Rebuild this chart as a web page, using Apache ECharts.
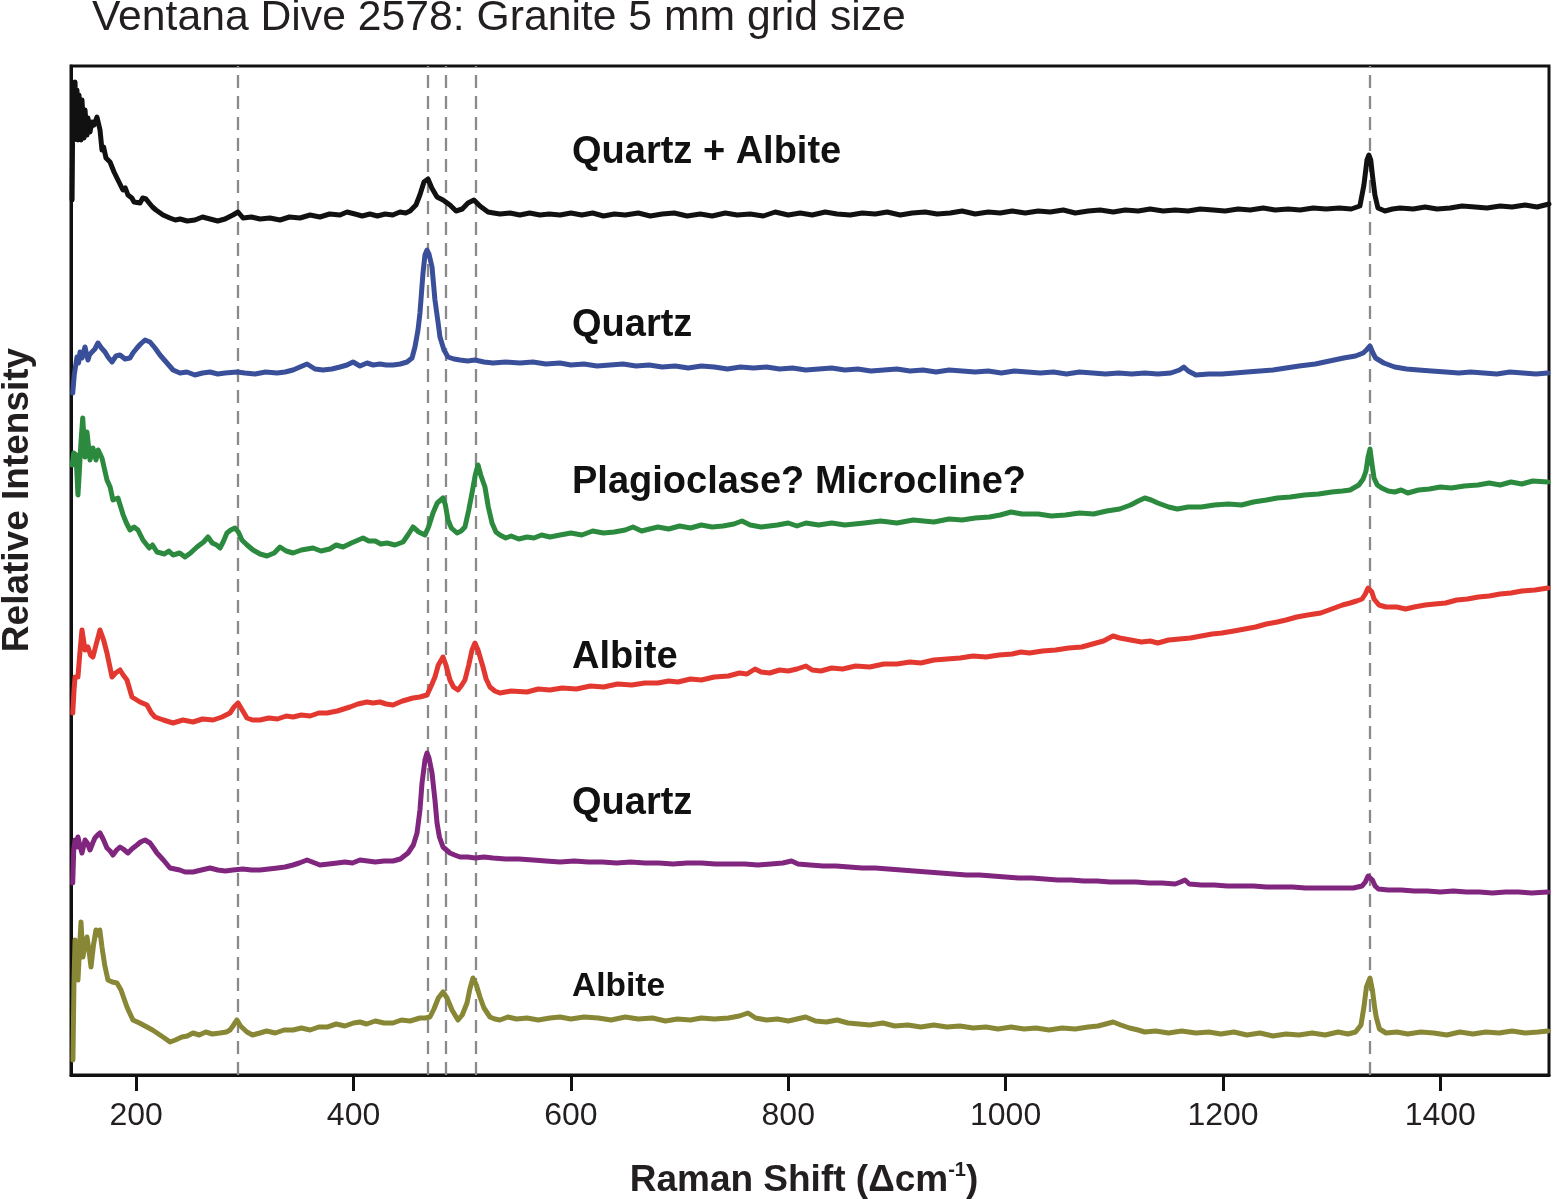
<!DOCTYPE html>
<html>
<head>
<meta charset="utf-8">
<title>Ventana Dive 2578: Granite 5 mm grid size</title>
<script src="https://cdn.jsdelivr.net/npm/echarts@6.0.0/dist/echarts.min.js"></script>
<style>
  html, body { margin: 0; padding: 0; background: #fff; }
  #main { width: 1553px; height: 1199px; }
</style>
</head>
<body>
<div id="main"></div>
<script>
// Raman shift tick labels and the reference peak positions (dashed lines)
const xTicks = [200, 400, 600, 800, 1000, 1200, 1400];
const peakLines = [293, 468, 485, 512, 1335];

// mineral labels, top to bottom
const labels = ['Quartz + Albite', 'Quartz', 'Plagioclase? Microcline?', 'Albite', 'Quartz', 'Albite'];
const colors = ['#111111', '#3a4f9a', '#2b8a3e', '#e2382f', '#80267f', '#878735'];

// spectra: [raman shift, stacked relative intensity]
const quartzAlbite = [[141,875],[141.8,990],[142.8,935],[143.7,993],[144.6,945],[145.5,985],[146.4,935],[147.4,980],[149.2,935],[150.1,975],[152,937],[152.9,965],[154.7,940],[155.6,957],[157.5,943],[159.3,953],[161.2,950],[163.9,958],[166.7,945],[168.5,925],[170,928],[172.2,917],[175.9,913],[179.6,903],[183.2,895],[187.8,885],[190,887],[192.4,880],[196,877],[198,873],[203.5,872],[206,877],[209,876],[212.7,871],[215,868],[218.2,865],[224.7,860],[231,857],[236,855],[240.3,856],[247,854],[254,855],[261,858],[268,856],[275,854],[281.7,856],[289,860],[293.7,863],[298.3,857],[306,858],[314,856],[323,857],[332.3,855],[341,858],[350.7,857],[360,860],[369,858],[378,861],[387.5,860],[394,863],[401.3,861],[408,859],[415,861],[422,859],[429,861],[436,860],[442.7,863],[448,862],[452,864],[457.4,870],[461,880],[464.8,893],[468.5,896],[472,887],[476.8,878],[482.3,875],[488.7,870],[494.3,864],[500,866],[505.3,872],[510.8,875],[516.3,869],[523.7,863],[529,862],[534.7,861],[544,862],[553,860],[562,862],[571.5,860],[580,861],[590,860],[600,862],[610,860],[620,862],[630,859],[640,861],[650,860],[662,862],[673,859],[684,861],[695,862],[707,859],[719,861],[730,859],[742,862],[753,860],[765,861],[777,859],[788,863],[800,860],[811,862],[822,860],[834,863],[845,861],[857,860],[868,862],[880,861],[891,863],[903,860],[914,862],[926,863],[937,861],[949,862],[960,864],[972,861],[984,863],[995,862],[1006,864],[1018,862],[1030,864],[1041,863],[1053,865],[1064,862],[1076,864],[1087,865],[1099,863],[1110,865],[1122,864],[1133,866],[1145,864],[1156,865],[1168,864],[1179,866],[1191,865],[1202,864],[1214,866],[1225,865],[1237,867],[1248,865],[1260,866],[1271,865],[1283,867],[1295,866],[1307,867],[1318,866],[1326,869],[1329.7,890],[1332.5,915],[1334.3,920],[1336,915],[1337.5,900],[1339.8,880],[1342.6,867],[1349,864],[1356,866],[1363,867],[1375,866],[1386,868],[1397,866],[1409,867],[1420,869],[1432,868],[1443,867],[1455,869],[1466,868],[1478,870],[1489,868],[1500,871]];

const quartzA = [[141.6,682],[143,700],[145.5,718],[147,712],[148.3,723],[150.1,717],[152.9,728],[155.6,715],[157,720],[159.3,723],[162,726],[164.8,732],[168,727],[171.3,723],[174,718],[177.7,713],[181.4,719],[185.1,720],[189.7,716],[194.3,717],[197,722],[200.7,727],[204,731],[208.1,735],[212.7,733],[217.3,727],[221.9,720],[228.3,712],[233.9,705],[240.3,702],[246.7,703],[254,700],[261,702],[267.9,703],[275,701],[281.7,702],[292.7,703],[300,702],[309.3,701],[319,703],[329.5,702],[337,703],[344.3,705],[350.7,708],[357.2,711],[364.5,706],[371.9,705],[380,706],[387.5,708],[394,710],[399.5,713],[405.9,709],[412.4,712],[418,710],[424.3,711],[430,710],[436.3,710],[443,711],[449.2,713],[453.8,717],[456.5,728],[459.3,745],[461.1,762],[463.9,802],[465.7,820],[467.6,825],[469.4,821],[472.2,808],[474.9,775],[477.7,753],[479.5,738],[483.2,725],[486.9,718],[492.4,716],[497.9,715],[505,714],[511.7,715],[520,713],[528.3,712],[540,713],[553.1,712],[565,713],[577,711],[590,712],[600,710],[612,711],[624,709],[636,710],[648,711],[660,709],[672,710],[684,708],[696,709],[708,707],[720,709],[732,708],[744,706],[756,708],[768,707],[780,708],[792,706],[804,707],[816,705],[828,706],[840,707],[852,705],[864,706],[876,704],[888,705],[900,706],[912,704],[924,705],[936,703],[948,705],[960,704],[972,703],[984,704],[996,702],[1008,704],[1020,703],[1032,702],[1044,703],[1056,701],[1068,703],[1080,702],[1092,701],[1104,702],[1116,701],[1128,702],[1140,701],[1152,702],[1160,705],[1164,708],[1168,704],[1175,700],[1187,701],[1199,701],[1211,702],[1222,703],[1234,704],[1246,705],[1258,707],[1270,709],[1285,711],[1298,714],[1311,717],[1322,719],[1329,722],[1332,725],[1335.3,729],[1338,722],[1340.4,717],[1348,712],[1358,708],[1369,706],[1380,705],[1392,704],[1405,703],[1417,702],[1428,703],[1440,702],[1452,701],[1464,703],[1476,702],[1488,701],[1499,702]];

const plagioclase = [[141.2,610],[142.5,622],[144.6,620],[146.4,580],[147.5,600],[149,630],[150.8,657],[152.9,618],[154.7,643],[157.5,615],[160.2,627],[163,615],[165,625],[168.5,617],[171,605],[173.1,595],[176,588],[178.6,575],[183.2,577],[188,560],[191,552],[194.3,545],[198,548],[201.6,545],[206.2,535],[212,527],[215,530],[219.1,523],[226,521],[230,524],[233.9,520],[240,522],[244.9,518],[250,522],[255.9,528],[262,533],[266.1,538],[270,532],[274,530],[277.1,527],[280,533],[283.5,542],[287,545],[290.9,547],[294,543],[297.3,535],[302,530],[307.5,525],[314,521],[320.3,519],[327,522],[332.3,528],[338,524],[344.3,522],[352,525],[362.7,527],[370,524],[378,526],[384,530],[390.3,528],[398,532],[408.7,537],[414,534],[420,534],[425,531],[430.8,532],[438,530],[445.5,533],[450,540],[454.7,548],[460,543],[465.7,540],[469,548],[473.1,562],[477,572],[482.3,577],[484.5,570],[486.9,555],[490,547],[495.2,542],[499,544],[502.5,548],[506,565],[509,582],[512,600],[514.5,610],[517,600],[520.9,588],[524,568],[527.4,552],[531,543],[534.7,540],[540,537],[545,539],[552,536],[559.6,538],[566,537],[573,540],[580.7,538],[590,540],[600,542],[610,540],[620,544],[630,542],[640,543],[650,545],[657.1,548],[665,544],[680,548],[690,546],[700,549],[710,547],[720,550],[730,548],[740,549],[750,551],[757.4,554],[765,550],[775,548],[790,550],[800,552],[808,549],[816.3,552],[828,550],[840,552],[852,550],[870,552],[885,554],[900,552],[915,555],[934,553],[948,556],[960,555],[972,557],[985,558],[995,560],[1005,563],[1015,561],[1030,561],[1042,559],[1055,560],[1068,562],[1081,561],[1093,564],[1105,566],[1115,570],[1122,574],[1128,577],[1134,575],[1140,572],[1150,568],[1158,566],[1168,568],[1180,568],[1192,570],[1205,571],[1217,570],[1228,573],[1240,575],[1250,577],[1262,578],[1275,580],[1288,581],[1300,583],[1310,584],[1317,585],[1325,590],[1329,596],[1331.6,604],[1333.5,618],[1335.3,626],[1337,612],[1339,597],[1342,590],[1346,587],[1352,584],[1358,583],[1364,585],[1370,582],[1380,585],[1390,586],[1400,588],[1410,587],[1422,589],[1434.6,590],[1445,592],[1455,590],[1465,593],[1475,591],[1485,594],[1499,593]];

const albiteA = [[141.6,362],[142.8,385],[143.7,398],[146.4,398],[148,420],[150.1,445],[152.9,425],[155.6,428],[158,420],[160.2,418],[163,430],[166.7,445],[170,435],[173.1,422],[177.7,398],[181,402],[185.1,405],[188,400],[191.5,395],[196.1,378],[203.5,373],[209.9,370],[214,362],[217.3,358],[225,355],[233.9,352],[243,355],[252.3,353],[261,356],[270.7,355],[279,358],[286.3,362],[290,368],[293.7,372],[297,366],[301.9,357],[307,355],[313.9,355],[322,357],[330,356],[338,359],[344.3,358],[352,360],[360,359],[368,362],[375.6,362],[385,364],[396.7,368],[404,371],[412.4,373],[418,372],[424.3,373],[430,371],[436.3,370],[445,374],[454.7,377],[461,378],[467.6,380],[471,388],[474.9,398],[478,410],[482.3,418],[485,410],[488.7,395],[492,388],[496.1,385],[499,389],[502.5,395],[506,410],[509,425],[511.7,432],[514.5,425],[519.1,408],[522,396],[525.5,388],[530,384],[534.7,382],[545,384],[559.6,383],[570,386],[580.7,385],[592,387],[605,386],[618,389],[630,388],[643,391],[656,390],[668,392],[680,392],[690,394],[698.5,393],[710,396],[720,395],[732,398],[745,399],[755,402],[762,401],[769.4,406],[775,403],[783,402],[792,405],[800,404],[808,406],[816.3,409],[822,405],[830,404],[840,407],[850,406],[862,409],[875,408],[888,411],[900,411],[912,413],[922,412],[934,415],[946,416],[958,417],[970,419],[982,418],[994,420],[1006,421],[1014,423],[1022,422],[1034,424],[1046,425],[1058,427],[1070,428],[1080,431],[1090,434],[1098.8,439],[1105,437],[1115,435],[1125,433],[1133,434],[1140,432],[1150,435],[1160,436],[1170,437],[1180,439],[1190,441],[1199,442],[1210,444],[1220,446],[1230,448],[1240,451],[1250,453],[1258,455],[1268,458],[1278,460],[1290,462],[1300,466],[1310,470],[1317,472],[1323,474],[1328,476],[1331,481],[1333.5,487],[1335.3,489],[1337,483],[1339,476],[1343.5,470],[1350,468],[1360,468],[1368,466],[1376,468],[1386,470],[1395,471],[1405,472],[1415,475],[1425,476],[1435,478],[1445,479],[1455,481],[1465,482],[1475,484],[1487,485],[1499,487]];

const quartzB = [[141.6,192],[142.5,225],[143.7,235],[145,228],[146.4,238],[148,230],[150.1,222],[152.9,235],[155,232],[157.5,225],[160,232],[162,237],[164.5,240],[166.7,242],[170,235],[173.1,227],[176,224],[178.6,220],[182,225],[185.1,228],[188,226],[192.4,222],[196,226],[200.7,230],[204,233],[208.1,235],[212.7,232],[216,227],[219.1,222],[225,215],[231.1,207],[240,205],[245,203],[252.3,203],[260,205],[267.9,207],[275,205],[282,204],[289.1,205],[298,206],[306,205],[313.9,205],[322,206],[330,207],[337,208],[344.3,210],[350,212],[357.2,215],[362,213],[369.1,210],[377,211],[385,212],[392,213],[399,212],[405.9,215],[413,214],[420,213],[428,214],[436.3,214],[443,216],[450.1,222],[455,230],[458.4,242],[461.1,265],[463,292],[465.7,315],[467.6,322],[469.4,317],[472.2,302],[474.9,275],[476.8,252],[479,238],[482.3,228],[488.7,222],[493,220],[497.9,218],[505,218],[512,217],[520,218],[528.3,217],[540,216],[552,216],[565,215],[577,214],[590,213],[603,214],[616,213],[629,213],[642,212],[655,213],[668,212],[681,212],[694,211],[707,212],[720,212],[733,211],[746,211],[760,211],[772,210],[784,211],[795,212],[803,214],[809,211],[820,210],[832,209],[844,209],[856,208],[868,207],[880,207],[892,206],[904,205],[916,204],[928,203],[940,202],[952,201],[964,200],[976,200],[988,199],[1000,198],[1012,197],[1024,197],[1036,196],[1048,195],[1060,195],[1072,194],[1084,194],[1096,193],[1108,193],[1120,193],[1132,192],[1144,192],[1156,191],[1161,193],[1165,195],[1169,191],[1180,190],[1192,190],[1204,189],[1216,189],[1228,189],[1240,188],[1252,188],[1264,188],[1276,187],[1288,187],[1300,187],[1312,187],[1320,187],[1328,189],[1331,193],[1333.5,199],[1335.3,200],[1337.5,195],[1340,189],[1343,186],[1352,185],[1364,185],[1376,184],[1388,184],[1400,183],[1412,184],[1424,183],[1436,183],[1448,182],[1460,183],[1472,183],[1484,182],[1499,183]];

const albiteB = [[141.8,15],[142.7,90],[143.7,135],[145,110],[146.4,95],[147.8,125],[149.2,153],[151,118],[152.8,130],[154.7,138],[156.5,125],[158.4,108],[160.7,130],[163,145],[165,140],[166.5,145],[168.5,128],[171,110],[174,95],[178,93],[182.3,92],[186,85],[191.5,68],[194,62],[197,55],[203,52],[209.9,48],[215,45],[221.9,40],[226,37],[231.1,33],[236,35],[242,38],[247,39],[252.3,42],[258,40],[264,43],[270,41],[277.1,42],[283,43],[286.3,45],[289,49],[292.7,55],[296,49],[301.9,43],[307,40],[313.9,42],[320,44],[328,42],[336,45],[344.3,45],[352,47],[360,45],[368,48],[375.6,48],[384,51],[392,49],[400,52],[405.9,53],[412,51],[420,54],[428,52],[436.3,52],[444,55],[452,54],[461.1,57],[466,57],[470.3,58],[474,66],[478,77],[482.3,83],[486,77],[490.6,65],[496.1,55],[500,60],[504.4,72],[507,86],[509.9,97],[513,90],[516.3,78],[520,67],[525.5,58],[530,56],[534.7,55],[542,58],[550,56],[559.6,57],[570,55],[580.7,57],[590,58],[600,56],[612,58],[625,57],[637,55],[650,58],[662,56],[675,57],[687,54],[698,56],[710,55],[720,57],[732,56],[745,57],[755,59],[762.9,62],[770,57],[780,55],[790,56],[800,54],[808,56],[816,58],[825,54],[835,53],[845,55],[855,52],[865,51],[875,50],[887,52],[898,49],[910,50],[922,48],[934,50],[946,48],[958,49],[970,47],[982,48],[993,46],[1005,48],[1017,46],[1028,47],[1040,45],[1052,47],[1064,46],[1076,48],[1085,49],[1092,51],[1099,53],[1106,50],[1114,47],[1122,45],[1128,43],[1138,44],[1150,42],[1162,44],[1175,42],[1187,43],[1198,41],[1210,43],[1222,40],[1234,42],[1246,39],[1258,41],[1270,40],[1282,42],[1294,40],[1306,43],[1315,41],[1322,43],[1327,50],[1329.7,68],[1332,88],[1335.3,97],[1337.5,85],[1339.5,68],[1341,58],[1344,46],[1350,42],[1360,43],[1370,41],[1382,43],[1394,42],[1406,40],[1418,43],[1430,41],[1442,43],[1454,42],[1466,44],[1478,42],[1490,43],[1499,44]];

const spectra = [quartzAlbite, quartzA, plagioclase, albiteA, quartzB, albiteB];

const FONT = "'Liberation Sans', Arial, Helvetica, sans-serif";

const chart = echarts.init(document.getElementById('main'), null, { renderer: 'canvas' });

const series = spectra.map((data, i) => ({
  name: labels[i],
  type: 'line',
  data: data,
  symbol: 'none',
  showSymbol: false,
  lineStyle: { color: colors[i], width: 5, join: 'round', cap: 'round' },
  z: 3
}));

// dashed reference lines at the peak positions
series[0].markLine = {
  silent: true,
  symbol: ['none', 'none'],
  label: { show: false },
  lineStyle: { type: [13, 8], color: '#8a8a8a', width: 2.3 },
  data: peakLines.map(v => ({ xAxis: v })),
  z: 2
};

// text positions for each mineral label (centre of capitals, px)
const labelY = [153, 326, 483, 658, 804, 987];
const labelSize = [38, 38, 38, 38, 38, 33.5];

const option = {
  animation: false,
  backgroundColor: '#ffffff',
  grid: {
    left: 71, top: 66, right: 4, bottom: 124,
    show: true, borderColor: '#111', borderWidth: 3
  },
  xAxis: {
    type: 'value',
    min: 140,
    max: 1500,
    axisLine: { show: true, lineStyle: { color: '#111', width: 3 } },
    axisTick: { show: true, inside: false, length: 16, lineStyle: { color: '#111', width: 3 }, customValues: xTicks },
    axisLabel: {
      show: true, margin: 25, fontSize: 32, color: '#231f20', fontFamily: FONT,
      customValues: xTicks,
      formatter: v => String(v)
    },
    splitLine: { show: false }
  },
  yAxis: {
    type: 'value',
    min: 0,
    max: 1009,
    axisLine: { show: true, lineStyle: { color: '#111', width: 3 } },
    axisTick: { show: false },
    axisLabel: { show: false },
    splitLine: { show: false }
  },
  series: series,
  graphic: [
    {
      type: 'text', x: 92, y: 18,
      style: { text: 'Ventana Dive 2578: Granite 5 mm grid size', fontSize: 42.7, fontFamily: FONT, fill: '#231f20', align: 'left', verticalAlign: 'middle' }
    },
    {
      type: 'text', x: 18, y: 500, rotation: Math.PI / 2,
      style: { text: 'Relative Intensity', fontSize: 37, fontWeight: 'bold', fontFamily: FONT, fill: '#231f20', align: 'center', verticalAlign: 'middle' }
    },
    {
      type: 'text', x: 804, y: 1181,
      style: {
        text: '{a|Raman Shift (Δcm}{s|-1}{a|)}',
        align: 'center', verticalAlign: 'middle',
        rich: {
          a: { fontSize: 37, fontWeight: 'bold', fontFamily: FONT, fill: '#231f20', lineHeight: 42 },
          s: { fontSize: 20, fontWeight: 'bold', fontFamily: FONT, fill: '#231f20', lineHeight: 42, verticalAlign: 'top' }
        }
      }
    }
  ].concat(labels.map((t, i) => ({
    type: 'text', x: 572, y: labelY[i],
    style: { text: t, fontSize: labelSize[i], fontWeight: 'bold', fontFamily: FONT, fill: '#111', align: 'left', verticalAlign: 'middle' }
  })))
};

chart.setOption(option);
</script>
</body>
</html>
